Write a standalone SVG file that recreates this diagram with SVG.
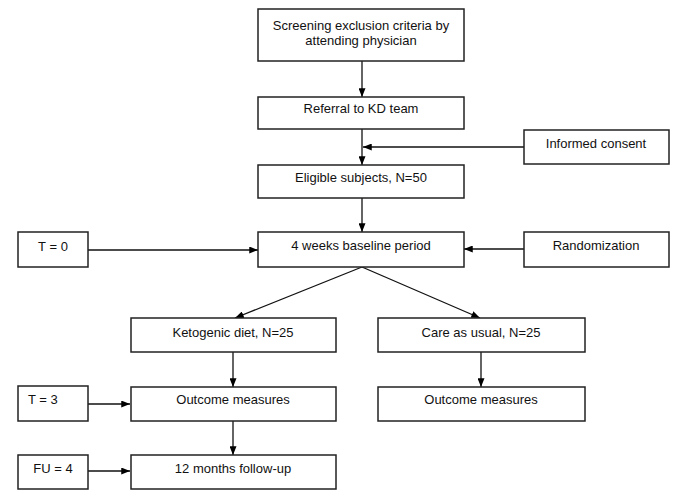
<svg xmlns="http://www.w3.org/2000/svg" width="685" height="504" viewBox="0 0 685 504">
<defs>
<marker id="ah" viewBox="0 0 10 8" refX="10" refY="4" markerWidth="9" markerHeight="7" markerUnits="userSpaceOnUse" orient="auto">
<path d="M0,0 L10,4 L0,8 Z" fill="#000"/>
</marker>
<style>
.box{fill:#fff;stroke:#222;stroke-width:1.5}
.t{font-family:"Liberation Sans",Arial,sans-serif;font-size:13px;fill:#111;text-anchor:middle}
.c{fill:none;stroke:#111;stroke-width:1.3;marker-end:url(#ah)}
</style>
</defs>
<rect width="685" height="504" fill="#fff"/>
<g id="connectors">
<line class="c" x1="362" y1="61" x2="362" y2="97"/>
<line class="c" x1="362" y1="129" x2="362" y2="165"/>
<line class="c" x1="524" y1="147" x2="363" y2="147"/>
<line class="c" x1="362" y1="198" x2="362" y2="232"/>
<line class="c" x1="88" y1="250" x2="258" y2="250"/>
<line class="c" x1="524" y1="249" x2="464" y2="249"/>
<line class="c" x1="362" y1="267" x2="235" y2="318"/>
<line class="c" x1="362" y1="267" x2="480" y2="318"/>
<line class="c" x1="233" y1="352" x2="233" y2="387"/>
<line class="c" x1="481" y1="352" x2="481" y2="387"/>
<line class="c" x1="88" y1="404" x2="130" y2="404"/>
<line class="c" x1="233" y1="421" x2="233" y2="455"/>
<line class="c" x1="88" y1="471" x2="130" y2="471"/>
</g>
<g id="screening"><rect class="box" x="258" y="9" width="206" height="52"/><text class="t" x="361" y="30">Screening exclusion criteria by</text><text class="t" x="361" y="45">attending physician</text></g>
<g id="referral"><rect class="box" x="258" y="97" width="206" height="32"/><text class="t" x="361" y="113">Referral to KD team</text></g>
<g id="consent"><rect class="box" x="524" y="130" width="145" height="34"/><text class="t" x="596" y="148">Informed consent</text></g>
<g id="eligible"><rect class="box" x="258" y="165" width="206" height="33"/><text class="t" x="361" y="182">Eligible subjects, N=50</text></g>
<g id="t0"><rect class="box" x="18" y="232" width="70" height="35"/><text class="t" x="53" y="251">T = 0</text></g>
<g id="baseline"><rect class="box" x="258" y="232" width="206" height="35"/><text class="t" x="361" y="250">4 weeks baseline period</text></g>
<g id="randomization"><rect class="box" x="524" y="232" width="145" height="35"/><text class="t" x="596" y="250">Randomization</text></g>
<g id="keto"><rect class="box" x="131" y="318" width="205" height="34"/><text class="t" x="233" y="337">Ketogenic diet, N=25</text></g>
<g id="care"><rect class="box" x="378" y="318" width="207" height="34"/><text class="t" x="481" y="337">Care as usual, N=25</text></g>
<g id="t3"><rect class="box" x="18" y="386" width="70" height="35"/><text class="t" x="28" y="404" style="text-anchor:start">T = 3</text></g>
<g id="outcome1"><rect class="box" x="131" y="387" width="205" height="34"/><text class="t" x="233" y="404">Outcome measures</text></g>
<g id="outcome2"><rect class="box" x="378" y="387" width="207" height="34"/><text class="t" x="481" y="404">Outcome measures</text></g>
<g id="fu4"><rect class="box" x="18" y="455" width="70" height="34"/><text class="t" x="53" y="473">FU = 4</text></g>
<g id="followup"><rect class="box" x="131" y="455" width="205" height="34"/><text class="t" x="233" y="473">12 months follow-up</text></g>
</svg>
